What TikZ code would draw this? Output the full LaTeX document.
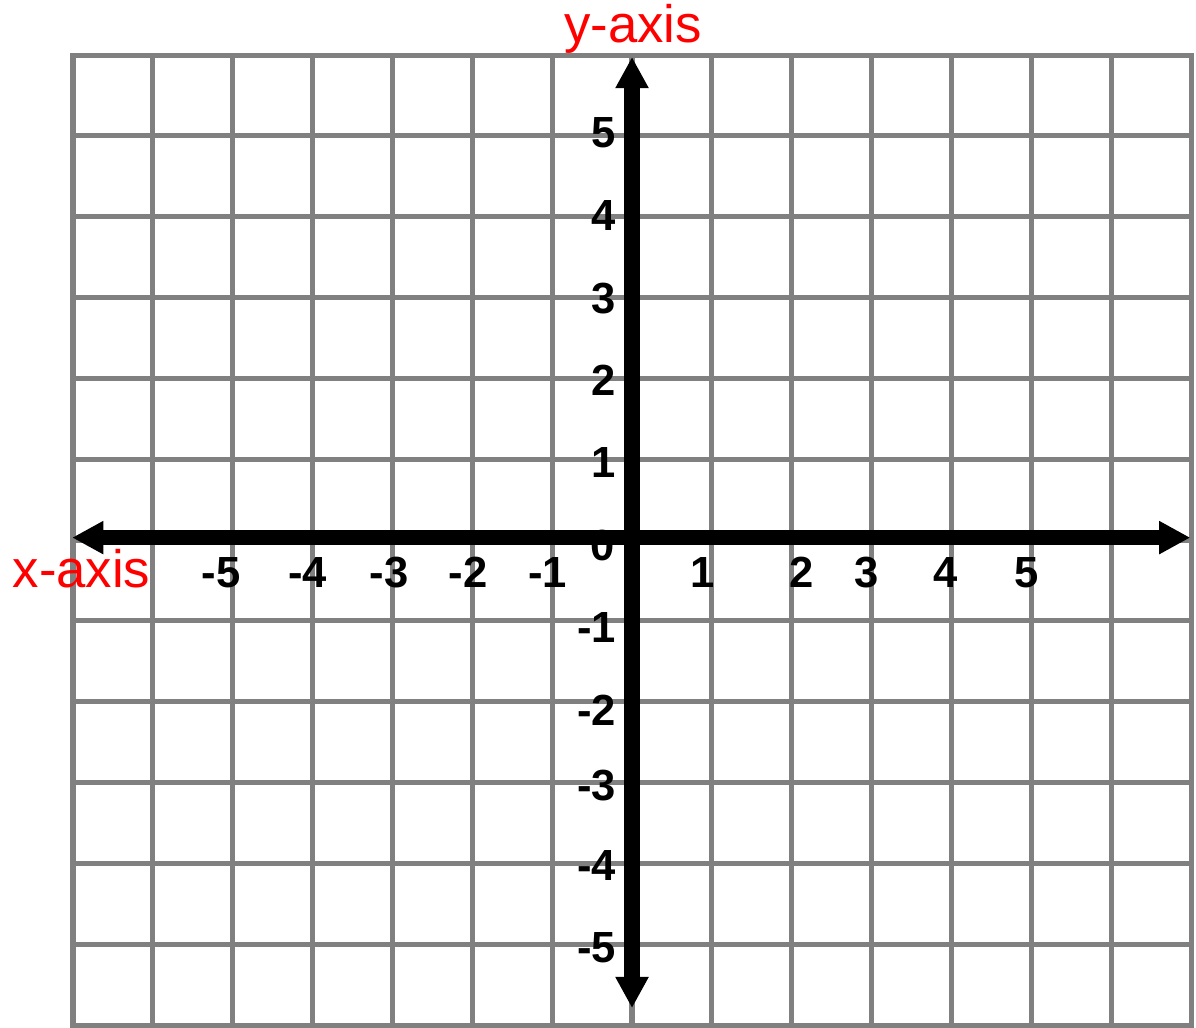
\documentclass[tikz,border=0pt]{standalone}
\usepackage{fontspec}
\setmainfont{Liberation Sans}
\usetikzlibrary{arrows.meta}

\begin{document}
\begin{tikzpicture}[
        x=1.9965cm, y=2.0208cm,
        gridline/.style={draw=gray,line width=3.6pt,line cap=rect},
        axis/.style={line width=10.7pt,{Triangle[length=0.78cm,width=0.78cm]}-{Triangle[length=0.78cm,width=0.78cm]}},
        tick/.style={font=\fontsize{31}{31}\selectfont\bfseries,inner sep=0pt},
        axislabel/.style={font=\fontsize{37.5}{37.5}\selectfont,text=red,inner sep=0pt}]
    \useasboundingbox (-7.914,-6.025) rectangle (7.062,6.681);
    % grid
    \foreach \i in {-7,...,7}
        \draw[gridline] (\i,-6) -- (\i,6);
    \foreach \j in {-6,...,6}
        \draw[gridline] (-7,\j) -- (7,\j);
    % axes
    \coordinate (west) at (-7.01,0.03);
    \coordinate (east) at (6.99,0.03);
    \coordinate (south) at (0,-5.79);
    \coordinate (north) at (0,5.976);
    \draw[axis] (west) -- (east);
    \draw[axis] (south) -- (north);
    \node[axislabel,anchor=base] (ylabel) at (0.0125,6.149) {y-axis};
    \node[axislabel,anchor=base] (xlabel) at (-6.893,-0.581) {x-axis};
    % numbers
    \foreach \p/\t [count=\n] in {-5.147/-5,-4.063/-4,-3.043/-3,-2.054/-2,-1.058/-1,
            0.889/1,2.129/2,2.943/3,3.932/4,4.946/5}
        \node[tick,anchor=base] (xt\n) at (\p,-0.581) {\t};
    \node[tick,anchor=base] (zero) at (-0.363,-0.247) {0};
    \foreach \q/\t [count=\n] in {4.862/5,3.835/4,2.808/3,1.794/2,0.779/1,
            -1.262/-1,-2.289/-2,-3.217/-3,-4.206/-4,-5.221/-5}
        \node[tick,anchor=base east] (yt\n) at (-0.195,\q) {\t};
\end{tikzpicture}
\end{document}
